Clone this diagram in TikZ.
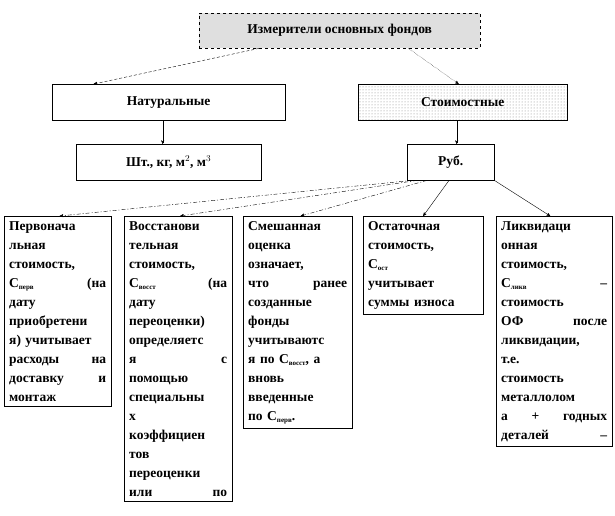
\documentclass[tikz,border=0pt]{standalone}
\usepackage{fontspec}
\setmainfont{Liberation Serif}
\usetikzlibrary{arrows,patterns}
\newcommand{\sbs}[1]{\raisebox{-2pt}{\fontsize{7}{7}\selectfont #1}}

\begin{document}
\begin{tikzpicture}[x=1pt,y=-1pt,>=stealth',
  head/.style={draw,anchor=north west,font=\bfseries\fontsize{13.5}{15}\selectfont,inner sep=0pt},
  txt/.style={draw,anchor=north west,inner xsep=5pt,inner ysep=5pt,align=left,
    font=\bfseries\fontsize{13.5}{19}\selectfont},
  dd/.style={->,dash pattern=on 4pt off 2pt on 1pt off 2pt},
  every path/.style={thin}]
\useasboundingbox (0,0) rectangle (615,516);

\node[head,fill=gray!25,dashed,minimum width=281,minimum height=35] (top) at (199,13) {Измерители основных фондов};
\node[head,minimum width=233,minimum height=36] (nat) at (52,84) {Натуральные};
\node[head,pattern=dots,pattern color=gray,minimum width=209,minimum height=36] (cost) at (358,84) {Стоимостные};
\node[head,minimum width=185,minimum height=36] (units) at (76,144) {Шт., кг, м$^2$, м$^3$};
\node[head,minimum width=87,minimum height=36] (rub) at (407,144) {Руб.};

\node[txt,text width=97] (b1) at (4,216) {Первонача\\льная\\стоимость,\\С\sbs{перв} \hfill (на\\дату\\приобретени\\я) учитывает\\расходы \hfill на\\доставку \hfill и\\монтаж};
\node[txt,text width=98] (b2) at (124,216) {Восстанови\\тельная\\стоимость,\\С\sbs{восст} \hfill (на\\дату\\переоценки)\\определяетс\\я \hfill с\\помощью\\специальны\\х\\коэффициен\\тов\\переоценки\\или \hfill по};
\node[txt,text width=99] (b3) at (243,216) {Смешанная\\оценка\\означает,\\что \hfill ранее\\созданные\\фонды\\учитываютс\\я по С\sbs{восст}, а\\вновь\\введенные\\по С\sbs{перв}.};
\node[txt,text width=110] (b4) at (363,216) {Остаточная\\стоимость,\\С\sbs{ост}\\учитывает\\суммы износа};
\node[txt,text width=106] (b5) at (496,216) {Ликвидаци\\онная\\стоимость,\\С\sbs{ликв} \hfill --\\стоимость\\ОФ \hfill после\\ликвидации,\\т.е.\\стоимость\\металлолом\\а \hfill + \hfill годных\\деталей \hfill --};

\draw[->,densely dashed] ([xshift=60pt]top.south west) -- ([xshift=-75pt]nat.north);
\draw[->,densely dotted] ([xshift=-72pt]top.south east) -- ([xshift=-4pt]cost.north);
\draw[->] ([xshift=-6pt]nat.south) -- ([xshift=-6pt]units.north);
\draw[->] ([xshift=-6pt]cost.south) -- ([xshift=6pt]rub.north);
\draw[dd] ([xshift=5pt]rub.south west) -- ([xshift=2pt]b1.north);
\draw[dd] ([xshift=10pt]rub.south west) -- ([xshift=2pt]b2.north);
\draw[dd] ([xshift=20pt]rub.south west) -- ([xshift=3pt]b3.north);
\draw[->] ([xshift=42pt]rub.south west) -- ([xshift=0pt]b4.north);
\draw[->] (rub.south east) -- ([xshift=-4pt]b5.north);
\end{tikzpicture}
\end{document}
